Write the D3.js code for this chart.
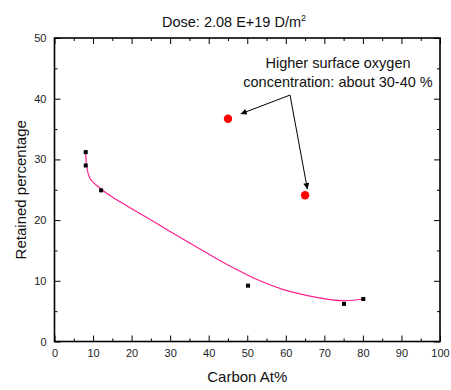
<!DOCTYPE html>
<html>
<head>
<meta charset="utf-8">
<script src="https://cdn.jsdelivr.net/npm/d3@7"></script>
<style>
  body { margin: 0; background: #fff; }
  svg { display: block; font-family: "Liberation Sans", Arial, sans-serif; }
</style>
</head>
<body>
<svg id="chart" width="451" height="390"></svg>
<script>
// ---- data ----
const squareX = [8.1, 8.1, 12.1, 50.2, 75.1, 80.1];
const squareY = [31.2, 29.0, 24.9, 9.2, 6.2, 7.0];
const circleX = [45.0, 65.0];
const circleY = [36.7, 24.1];
const fitX = [8.09, 8.3, 9.2, 11.8, 15.25, 19.6, 26.9, 34.3, 40.0, 45.5, 53.3, 59.4, 68.0, 74.9, 80.1];
const fitY = [31.38, 29.08, 26.89, 25.24, 23.69, 22.04, 19.3, 16.5, 14.4, 12.45, 10.0, 8.55, 7.28, 6.72, 7.0];
const xTicks = [0, 10, 20, 30, 40, 50, 60, 70, 80, 90, 100];
const xMinor = [5, 15, 25, 35, 45, 55, 65, 75, 85, 95];
const yTicks = [0, 10, 20, 30, 40, 50];
const yMinor = [5, 15, 25, 35, 45];
const annotLines = ["Higher surface oxygen", "concentration: about 30-40 %"];
const arrowStart = [61.1, 40.6];
const arrowEndsX = [48.3, 65.6];
const arrowEndsY = [37.5, 25.1];

// ---- layout ----
const svg = d3.select("#chart");
const L = 54.5, R = 440, T = 38, B = 341.5;
const x = d3.scaleLinear().domain([0, 100]).range([L, R]);
const y = d3.scaleLinear().domain([0, 50]).range([B, T]);
const fs = 11;

svg.append("defs").append("marker")
  .attr("id", "arr").attr("viewBox", "0 0 10 10")
  .attr("refX", 10).attr("refY", 5)
  .attr("markerWidth", 8).attr("markerHeight", 6)
  .attr("markerUnits", "userSpaceOnUse")
  .attr("orient", "auto")
  .append("path").attr("d", "M0,0 L10,5 L0,10 Z").attr("fill", "#000");

function styleAxis(g) {
  g.selectAll("path.domain").remove();
  g.selectAll(".tick line").attr("stroke", "#000").attr("stroke-width", 1);
  g.selectAll("text").attr("fill", "#222").style("font-size", fs + "px")
    .style("font-family", "'Liberation Sans', Arial, sans-serif");
}

svg.append("g").attr("transform", `translate(0,${B})`)
  .call(d3.axisBottom(x).tickValues(xTicks).tickSize(-6).tickPadding(8).tickFormat(d3.format("d")))
  .call(styleAxis);
svg.append("g").attr("transform", `translate(0,${B})`)
  .call(d3.axisBottom(x).tickValues(xMinor).tickSize(-3).tickFormat(""))
  .call(styleAxis);
svg.append("g").attr("transform", `translate(0,${T})`)
  .call(d3.axisTop(x).tickValues(xTicks).tickSize(-6).tickFormat(""))
  .call(styleAxis);
svg.append("g").attr("transform", `translate(0,${T})`)
  .call(d3.axisTop(x).tickValues(xMinor).tickSize(-3).tickFormat(""))
  .call(styleAxis);
svg.append("g").attr("transform", `translate(${L},0)`)
  .call(d3.axisLeft(y).tickValues(yTicks).tickSize(-6).tickPadding(8).tickFormat(d3.format("d")))
  .call(styleAxis);
svg.append("g").attr("transform", `translate(${L},0)`)
  .call(d3.axisLeft(y).tickValues(yMinor).tickSize(-3).tickFormat(""))
  .call(styleAxis);
svg.append("g").attr("transform", `translate(${R},0)`)
  .call(d3.axisRight(y).tickValues(yTicks).tickSize(-6).tickFormat(""))
  .call(styleAxis);
svg.append("g").attr("transform", `translate(${R},0)`)
  .call(d3.axisRight(y).tickValues(yMinor).tickSize(-3).tickFormat(""))
  .call(styleAxis);

svg.append("rect").attr("x", L).attr("y", T).attr("width", R - L).attr("height", B - T)
  .attr("fill", "none").attr("stroke", "#000").attr("stroke-width", 1.6);

const fit = fitX.map((v, i) => [v, fitY[i]]);
svg.append("path").datum(fit)
  .attr("fill", "none").attr("stroke", "#ff1f8e").attr("stroke-width", 1.2)
  .attr("d", d3.line().x(d => x(d[0])).y(d => y(d[1])).curve(d3.curveCatmullRom.alpha(0.5)));

const sq = 4;
svg.append("g").selectAll("rect").data(squareX.map((v, i) => [v, squareY[i]]))
  .join("rect")
  .attr("x", d => x(d[0]) - sq / 2).attr("y", d => y(d[1]) - sq / 2)
  .attr("width", sq).attr("height", sq).attr("fill", "#000");

svg.append("g").selectAll("circle").data(circleX.map((v, i) => [v, circleY[i]]))
  .join("circle")
  .attr("cx", d => x(d[0])).attr("cy", d => y(d[1])).attr("r", 4.2).attr("fill", "#ff0000");

arrowEndsX.forEach((ex, i) => {
  svg.append("line")
    .attr("x1", x(arrowStart[0])).attr("y1", y(arrowStart[1]))
    .attr("x2", x(ex)).attr("y2", y(arrowEndsY[i]))
    .attr("stroke", "#000").attr("stroke-width", 1)
    .attr("marker-end", "url(#arr)");
});

const annX = 338;
svg.append("text").attr("x", annX).attr("y", 68).attr("text-anchor", "middle")
  .style("font-size", "14.5px").attr("fill", "#111").text(annotLines[0]);
svg.append("text").attr("x", annX).attr("y", 87).attr("text-anchor", "middle")
  .style("font-size", "14.5px").attr("fill", "#111").text(annotLines[1]);

const title = svg.append("text").attr("x", 162).attr("y", 27)
  .style("font-size", "14.5px").attr("fill", "#111");
title.append("tspan").text("Dose: 2.08 E+19 D/m");
title.append("tspan").attr("dy", -6).style("font-size", "9px").text("2");

svg.append("text").attr("x", (L + R) / 2).attr("y", 382).attr("text-anchor", "middle")
  .style("font-size", "15px").attr("fill", "#111").text("Carbon At%");
svg.append("text").attr("transform", `translate(26,${(T + B) / 2}) rotate(-90)`)
  .attr("text-anchor", "middle").style("font-size", "15px").attr("fill", "#111")
  .text("Retained percentage");
</script>
</body>
</html>
